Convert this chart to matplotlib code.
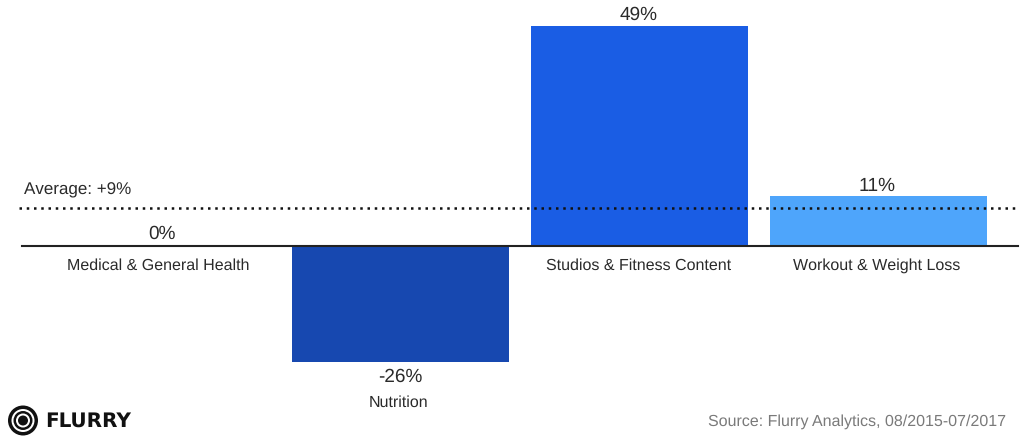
import matplotlib
matplotlib.use("Agg")
import matplotlib.pyplot as plt
from matplotlib.patches import Circle

categories = ["Medical & General Health", "Nutrition", "Studios & Fitness Content", "Workout & Weight Loss"]
values = [0, -26, 49, 11]
colors = ["#1a5de4", "#1748b0", "#1a5de4", "#4ea5fb"]
average_label = "Average: +9%"
average_line = 8.3

plt.rcParams["font.family"] = ["Liberation Sans", "DejaVu Sans"]
plt.rcParams["text.hinting"] = "no_hinting"
plt.rcParams["text.hinting_factor"] = 1

fig = plt.figure(figsize=(10.21, 4.38), dpi=100)
ax = fig.add_axes([0, 0, 1, 1])
ax.axis("off")

# pixel scale from the picture: baseline at y=245, 4.47 px per percent
px_per_unit = 4.47
base_y = 245.5
first_x = 161.5
step = 239
ax.set_ylim((base_y - 438) / px_per_unit, base_y / px_per_unit)
ax.set_xlim(-first_x / step, (1021 - first_x) / step)

x = list(range(len(values)))
ax.bar(x, values, width=216.5 / step, color=colors)
ax.axhline(0, xmin=22 / 1021, xmax=1018 / 1021, color="#222222", lw=1.5)
ax.axhline(average_line, xmin=19 / 1021, xmax=1015 / 1021, color="#111111", lw=1.8, ls=(0, (1, 1.9)))

# second axes in picture pixels for the labels and the footer
px = fig.add_axes([0, 0, 1, 1])
px.axis("off")
px.set_xlim(0, 1021)
px.set_ylim(438, 0)
px.patch.set_alpha(0)

text_color = "#2a2a2a"
px.text(24, 190, average_label, fontsize=12.5, va="center", color=text_color)
px.text(639, 15, "49%", ha="center", va="center", fontsize=14, color=text_color)
px.text(877.5, 186, "11%", ha="center", va="center", fontsize=14, color=text_color)
px.text(162, 234, "0%", ha="center", va="center", fontsize=14, color=text_color)
px.text(400, 377, "-26%", ha="center", va="center", fontsize=14, color=text_color)
px.text(158, 265.5, categories[0], ha="center", va="center", fontsize=11.2, color=text_color)
px.text(399, 402.5, categories[1], ha="center", va="center", fontsize=11.2, color=text_color)
px.text(639, 265.5, categories[2], ha="center", va="center", fontsize=11.2, color=text_color)
px.text(877, 265.5, categories[3], ha="center", va="center", fontsize=11.2, color=text_color)

px.text(1006, 422, "Source: Flurry Analytics, 08/2015-07/2017", ha="right", va="center",
        fontsize=11.5, color="#7a7a7a")

# logo, drawn from rings
for r, c in [(15, "#111111"), (11.5, "white"), (9.5, "#111111"), (7, "white"), (5, "#111111")]:
    px.add_patch(Circle((23, 420.5), r, color=c, lw=0))
px.text(45, 421, "FLURRY", ha="left", va="center", fontsize=14.2, fontweight="bold",
        family="DejaVu Sans", color="#111111")

fig.savefig("out.png", dpi=100)
